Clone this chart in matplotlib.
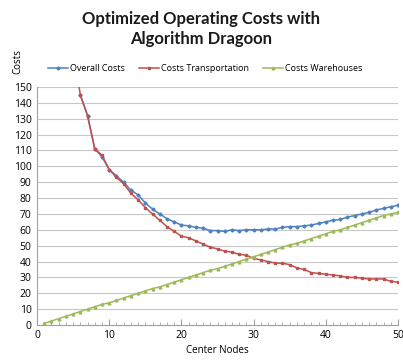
import numpy as np
import matplotlib.pyplot as plt
from matplotlib.ticker import MultipleLocator

# Center node counts
nodes_tr = list(range(5, 51))
transport = [175, 145, 132, 111, 107, 98, 93, 89, 83, 79,
             74, 70, 66, 62, 59, 56, 55, 53, 51, 49,
             48, 46.5, 46, 44.5, 44, 42, 41, 40, 39, 39,
             38, 36, 35, 33, 32.5, 32, 31.5, 31, 30, 30,
             29.5, 29, 29, 29, 27.5, 27]

nodes_ov = list(range(6, 51))
overall = [145, 132, 111, 106, 98, 94, 90, 85, 82, 77,
           73, 70, 67, 65, 63, 62.5, 61.5, 61, 59.5, 59.5,
           59, 60, 59.5, 60, 60, 60, 60.5, 60.5, 61.5, 62,
           62, 62.5, 63, 64, 65, 66, 66.5, 68, 69, 70,
           71, 72.5, 73.5, 74.5, 75.5]

nodes_wh = list(range(1, 51))
warehouses = [1, 2.5, 4, 5.5, 7, 8.5, 10, 11.5, 13, 14,
              15.5, 17, 18.5, 20, 21.5, 23, 24, 25.5, 27, 28.5,
              30, 31.5, 33, 34.5, 35.5, 37, 38.5, 40, 41.5, 43,
              44.5, 46, 47.5, 49, 50.5, 51.5, 53, 54.5, 56, 57.5,
              59, 60, 61.5, 63, 64.5, 66, 67.5, 69, 70, 71]

blue = '#4F81BD'
red = '#C0504D'
green = '#9BBB59'

plt.rcParams['font.family'] = ['Open Sans', 'DejaVu Sans']

fig = plt.figure(figsize=(4.03, 3.6), dpi=100)
ax = fig.add_axes([37 / 403, 1 - 325 / 360, 361 / 403, 238 / 360])

ax.plot(nodes_ov, overall, color=blue, marker='D', markersize=1.6, lw=1.1,
        label='Overall Costs')
ax.plot(nodes_tr, transport, color=red, marker='s', markersize=2, lw=1.1,
        label='Costs Transportation')
ax.plot(nodes_wh, warehouses, color=green, marker='^', markersize=2, lw=1.1,
        label='Costs Warehouses')

ax.set_xlim(0, 50)
ax.set_ylim(0, 150)
ax.yaxis.set_major_locator(MultipleLocator(10))
ax.xaxis.set_major_locator(MultipleLocator(10))
ax.xaxis.set_minor_locator(MultipleLocator(1))
ax.grid(axis='y', color='#c8c8c8', lw=0.8)
ax.set_axisbelow(True)
for s in ['top', 'right']:
    ax.spines[s].set_visible(False)
for s in ['left', 'bottom']:
    ax.spines[s].set_color('#a0a0a0')
ax.tick_params(axis='y', length=0, labelsize=7.5, pad=4)
ax.tick_params(axis='x', which='major', length=4, color='#a0a0a0',
               direction='in', labelsize=7.5)
ax.tick_params(axis='x', which='minor', length=2.5, color='#a0a0a0',
               direction='in')

ax.set_xlabel('Center Nodes', fontsize=7, labelpad=3)
fig.text(18 / 403, 1 - 62 / 360, 'Costs', rotation=90, fontsize=7,
         ha='center', va='center')

fig.text(0.5, 1 - 29 / 360, 'Optimized Operating Costs with\nAlgorithm Dragoon',
         ha='center', va='center', fontsize=12, fontweight='bold',
         family=['Lato', 'DejaVu Sans'], linespacing=1.25, color='#1a1a1a')

ax.legend(loc='lower left', bbox_to_anchor=(0.02, 1.045), ncol=3, frameon=False,
          fontsize=6.5, handlelength=2.2, columnspacing=1.5, handletextpad=0.3,
          borderaxespad=0)

fig.savefig('out.png', dpi=100)
